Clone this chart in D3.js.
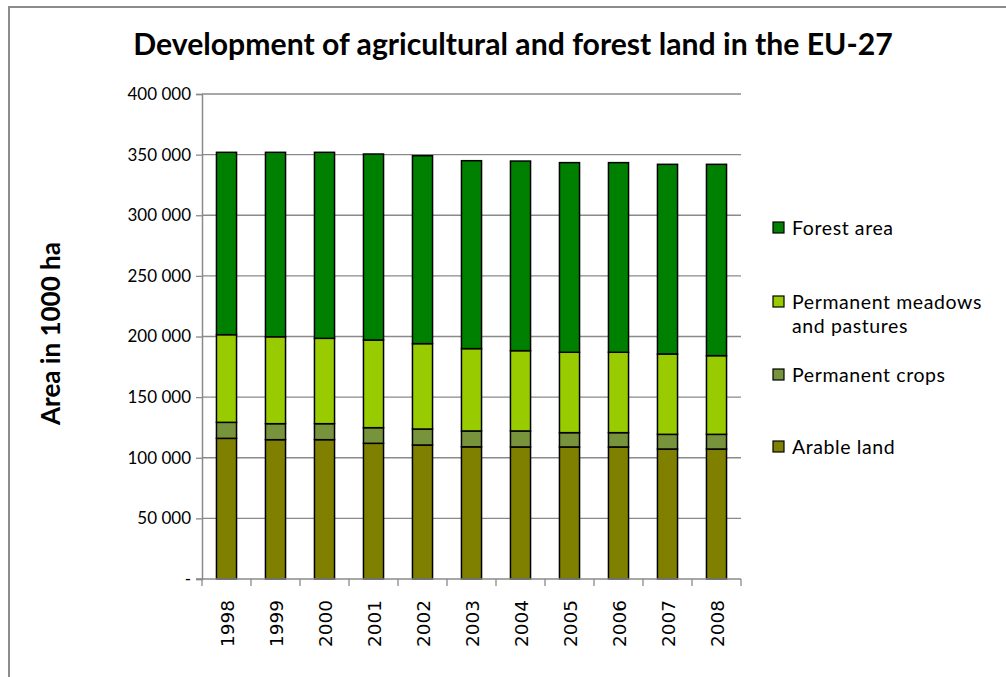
<!DOCTYPE html>
<html>
<head>
<meta charset="utf-8">
<script src="https://cdn.jsdelivr.net/npm/d3@7"></script>
<style>
  html, body { margin: 0; padding: 0; background: #fff; }
  svg { display: block; font-family: Lato, "Open Sans", "Noto Sans", sans-serif; }
</style>
</head>
<body>
<svg id="chart" width="1006" height="677"></svg>
<script>
// Land use in the EU-27, area in 1000 ha
const years = ["1998", "1999", "2000", "2001", "2002", "2003", "2004", "2005", "2006", "2007", "2008"];
const arableLand = [116000, 114900, 114900, 111900, 110500, 109000, 108900, 108900, 108900, 107200, 107200];
const permanentCrops = [13200, 13200, 13200, 12900, 13200, 13100, 13200, 11800, 11800, 12100, 12100];
const meadowsPastures = [72300, 71700, 70400, 72300, 70400, 67900, 66200, 66300, 66300, 66300, 64900];
const forestArea = [150400, 152100, 153400, 153400, 155000, 155000, 156400, 156400, 156400, 156400, 157800];
const yTicks = [0, 50000, 100000, 150000, 200000, 250000, 300000, 350000, 400000];

const seriesKeys = ["arable", "crops", "meadows", "forest"];
const seriesNames = {
  arable: ["Arable land"],
  crops: ["Permanent crops"],
  meadows: ["Permanent meadows", "and pastures"],
  forest: ["Forest area"]
};
const colors = { arable: "#808000", crops: "#77933C", meadows: "#99CC00", forest: "#008000" };

const rows = years.map((y, i) => ({
  year: y,
  arable: arableLand[i],
  crops: permanentCrops[i],
  meadows: meadowsPastures[i],
  forest: forestArea[i]
}));

const svg = d3.select("#chart");

// fit a text element to a given width by scaling its font size
function fitWidth(sel, width) {
  const fs = parseFloat(sel.attr("font-size"));
  const w = sel.node().getComputedTextLength();
  sel.attr("font-size", fs * width / w);
}

// outer chart frame
svg.append("rect")
  .attr("x", 9).attr("y", 7).attr("width", 1010).attr("height", 690)
  .attr("fill", "#fff").attr("stroke", "#8c8c8c").attr("stroke-width", 2);

const plot = { left: 202, right: 741, top: 94, bottom: 579 };

const x = d3.scaleBand().domain(years)
  .range([plot.left, plot.right])
  .paddingInner(0.59).paddingOuter(0.295);
const y = d3.scaleLinear().domain([0, 400000]).range([plot.bottom, plot.top]);

const locale = d3.formatLocale({ decimal: ".", thousands: " ", grouping: [3], currency: ["", ""] });
const fmt = locale.format(",");

// horizontal gridlines
svg.append("g").selectAll("line").data(yTicks.filter(d => d > 0)).join("line")
  .attr("x1", plot.left).attr("x2", plot.right)
  .attr("y1", d => y(d)).attr("y2", d => y(d))
  .attr("stroke", "#8a8a8a").attr("stroke-width", 1.3);

// y axis
const yAxis = svg.append("g").attr("transform", `translate(${plot.left},0)`)
  .call(d3.axisLeft(y).tickValues(yTicks).tickSize(6).tickPadding(5)
    .tickFormat(d => d === 0 ? "-" : fmt(d)));
yAxis.select(".domain").attr("stroke", "#8a8a8a").attr("stroke-width", 1.5);
yAxis.selectAll(".tick line").attr("stroke", "#8a8a8a").attr("stroke-width", 1.3);
yAxis.selectAll(".tick text").attr("font-size", 17).attr("fill", "#000")
  .attr("font-family", "Lato, sans-serif");

// stacked bars
const stack = d3.stack().keys(seriesKeys)(rows);
svg.append("g").selectAll("g").data(stack).join("g")
  .attr("fill", d => colors[d.key])
  .selectAll("rect").data(d => d).join("rect")
  .attr("x", d => x(d.data.year))
  .attr("width", x.bandwidth())
  .attr("y", d => y(d[1]))
  .attr("height", d => y(d[0]) - y(d[1]))
  .attr("stroke", "#000").attr("stroke-width", 1.5);

// x axis line with ticks at category boundaries
const xg = svg.append("g");
xg.append("line")
  .attr("x1", plot.left - 6).attr("x2", plot.right)
  .attr("y1", plot.bottom).attr("y2", plot.bottom)
  .attr("stroke", "#8a8a8a").attr("stroke-width", 1.5);
const boundaries = years.map(yr => x(yr) - x.step() * x.paddingInner() / 2)
  .concat([x(years[years.length - 1]) + x.bandwidth() + x.step() * x.paddingInner() / 2]);
xg.selectAll("line.b").data(boundaries).join("line").attr("class", "b")
  .attr("x1", d => d).attr("x2", d => d)
  .attr("y1", plot.bottom).attr("y2", plot.bottom + 7)
  .attr("stroke", "#8a8a8a").attr("stroke-width", 1.3);

// rotated year labels
xg.selectAll("text").data(years).join("text")
  .attr("transform", d => `translate(${x(d) + x.bandwidth() / 2 + 7},${plot.bottom + 21}) rotate(-90)`)
  .attr("text-anchor", "end")
  .attr("font-family", "'DejaVu Sans', sans-serif")
  .attr("font-size", 18.5)
  .text(d => d);

// y axis title
const yTitle = svg.append("text")
  .attr("transform", `translate(60,${(plot.top + plot.bottom) / 2 - 3}) rotate(-90)`)
  .attr("text-anchor", "middle")
  .attr("font-size", 22).attr("font-weight", "bold")
  .text("Area in 1000 ha");
fitWidth(yTitle, 183);

// chart title
const title = svg.append("text")
  .attr("x", 513).attr("y", 55)
  .attr("text-anchor", "middle")
  .attr("font-size", 26).attr("font-weight", "bold")
  .text("Development of agricultural and forest land in the EU-27");
fitWidth(title, 760);

// legend
const legendItems = [
  { key: "forest", y: 228 },
  { key: "meadows", y: 302 },
  { key: "crops", y: 375 },
  { key: "arable", y: 447 }
];
const lg = svg.append("g");
legendItems.forEach(item => {
  lg.append("rect")
    .attr("x", 773).attr("y", item.y - 6).attr("width", 11).attr("height", 11)
    .attr("fill", colors[item.key]).attr("stroke", "#000").attr("stroke-width", 1.2);
  seriesNames[item.key].forEach((line, j) => {
    lg.append("text")
      .attr("x", 792).attr("y", item.y + 7 + j * 24)
      .attr("font-size", 19.5)
      .attr("letter-spacing", 0.6)
      .text(line);
  });
});
</script>
</body>
</html>
